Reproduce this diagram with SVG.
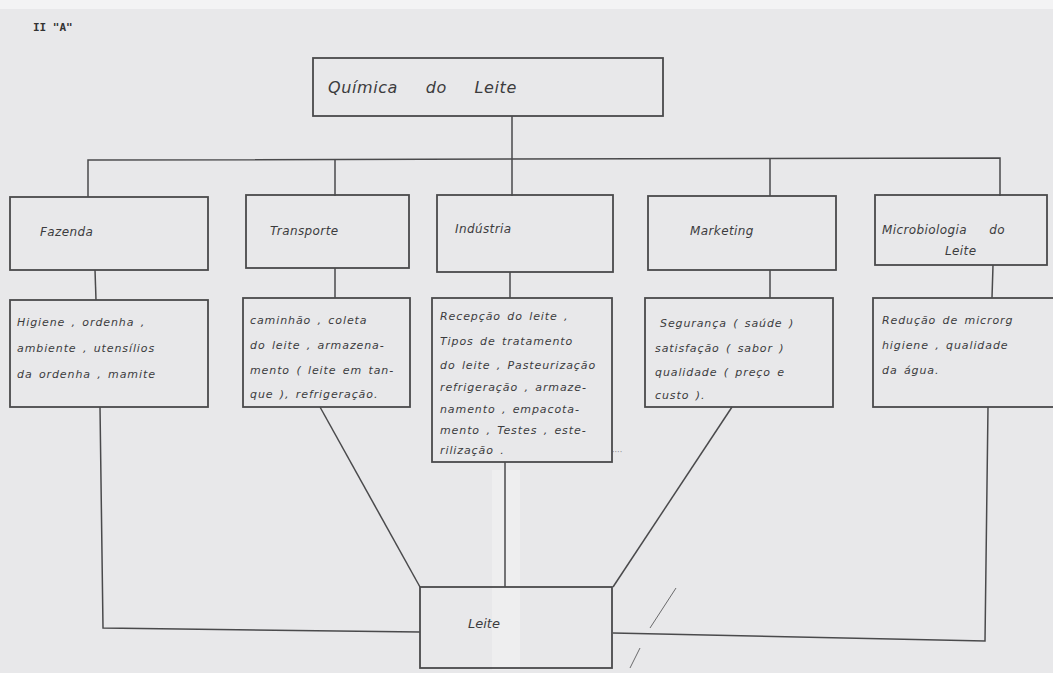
<svg xmlns="http://www.w3.org/2000/svg" width="1053" height="673" viewBox="0 0 1053 673">
  <defs>
    <style>
      .box { fill: none; stroke: #4a4a4c; stroke-width: 1.8; }
      .wire { fill: none; stroke: #4a4a4c; stroke-width: 1.5; }
      .hand { font-family: "DejaVu Sans", sans-serif; font-style: italic; fill: #3c3c3e; }
      .t2 { font-size: 12px; letter-spacing: 0.4px; }
      .t3 { font-size: 11px; letter-spacing: 0.9px; word-spacing: 2px; }
    </style>
  </defs>

  <!-- paper -->
  <rect x="0" y="0" width="1053" height="673" fill="#e8e8ea"/>
  <rect x="0" y="0" width="1053" height="9" fill="#f3f3f4"/>
  <rect x="492" y="470" width="28" height="200" fill="#eeeeef"/>

  <text x="33" y="31" font-family="DejaVu Sans Mono, monospace" font-size="11" font-weight="bold" fill="#333">II "A"</text>

  <!-- connectors -->
  <g id="connectors">
    <line class="wire" x1="512" y1="116" x2="512" y2="160"/>
    <path class="wire" d="M88 197 V160 L1000 158 V196"/>
    <line class="wire" x1="335" y1="160" x2="335" y2="196"/>
    <line class="wire" x1="512" y1="160" x2="512" y2="196"/>
    <line class="wire" x1="770" y1="159" x2="770" y2="196"/>
    <line class="wire" x1="95" y1="270" x2="96" y2="300"/>
    <line class="wire" x1="335" y1="268" x2="335" y2="298"/>
    <line class="wire" x1="510" y1="272" x2="510" y2="298"/>
    <line class="wire" x1="770" y1="270" x2="770" y2="298"/>
    <line class="wire" x1="993" y1="265" x2="992" y2="298"/>
    <path class="wire" d="M100 407 L103 628 L420 632"/>
    <line class="wire" x1="320" y1="407" x2="420" y2="587"/>
    <line class="wire" x1="505" y1="462" x2="505" y2="587"/>
    <line class="wire" x1="732" y1="407" x2="613" y2="587"/>
    <path class="wire" d="M988 407 L985 641 L613 633"/>
  </g>

  <!-- stray pen marks -->
  <line x1="676" y1="588" x2="650" y2="628" stroke="#6a6a6c" stroke-width="1"/>
  <line x1="640" y1="648" x2="630" y2="668" stroke="#6a6a6c" stroke-width="1"/>
  <text x="612" y="455" font-family="DejaVu Sans, sans-serif" font-size="8" fill="#8a8a8c">····</text>

  <g id="root">
    <rect class="box" x="313" y="58" width="350" height="58"/>
    <text class="hand" x="328" y="93" font-size="16" letter-spacing="0.6" word-spacing="22">Química do Leite</text>
  </g>

  <g id="fazenda">
    <rect class="box" x="10" y="197" width="198" height="73"/>
    <text class="hand t2" x="40" y="236">Fazenda</text>
  </g>
  <g id="transporte">
    <rect class="box" x="246" y="195" width="163" height="73"/>
    <text class="hand t2" x="270" y="235">Transporte</text>
  </g>
  <g id="industria">
    <rect class="box" x="437" y="195" width="176" height="77"/>
    <text class="hand t2" x="455" y="233">Indústria</text>
  </g>
  <g id="marketing">
    <rect class="box" x="648" y="196" width="188" height="74"/>
    <text class="hand t2" x="690" y="235">Marketing</text>
  </g>
  <g id="microbiologia">
    <rect class="box" x="875" y="195" width="172" height="70"/>
    <text class="hand t2" x="882" y="234" word-spacing="18">Microbiologia do</text>
    <text class="hand t2" x="945" y="255">Leite</text>
  </g>

  <g id="fazenda-itens">
    <rect class="box" x="10" y="300" width="198" height="107"/>
    <text class="hand t3" x="17" y="326" word-spacing="10">Higiene , ordenha ,</text>
    <text class="hand t3" x="17" y="352" word-spacing="8">ambiente , utensílios</text>
    <text class="hand t3" x="17" y="378" word-spacing="6">da ordenha , mamite</text>
  </g>
  <g id="transporte-itens">
    <rect class="box" x="243" y="298" width="167" height="109"/>
    <text class="hand t3" x="250" y="324">caminhão , coleta</text>
    <text class="hand t3" x="250" y="349">do leite , armazena-</text>
    <text class="hand t3" x="250" y="374" letter-spacing="0.4">mento ( leite em tan-</text>
    <text class="hand t3" x="250" y="398" letter-spacing="0.4">que ), refrigeração.</text>
  </g>
  <g id="industria-itens">
    <rect class="box" x="432" y="298" width="180" height="164"/>
    <text class="hand t3" x="440" y="320">Recepção do leite ,</text>
    <text class="hand t3" x="440" y="345">Tipos de tratamento</text>
    <text class="hand t3" x="440" y="369" letter-spacing="0.3" word-spacing="1">do leite , Pasteurização</text>
    <text class="hand t3" x="440" y="391" letter-spacing="0.6">refrigeração , armaze-</text>
    <text class="hand t3" x="440" y="413">namento , empacota-</text>
    <text class="hand t3" x="440" y="434" letter-spacing="0.5">mento , Testes , este-</text>
    <text class="hand t3" x="440" y="454">rilização .</text>
  </g>
  <g id="marketing-itens">
    <rect class="box" x="645" y="298" width="188" height="109"/>
    <text class="hand t3" x="660" y="327">Segurança ( saúde )</text>
    <text class="hand t3" x="655" y="352">satisfação ( sabor )</text>
    <text class="hand t3" x="655" y="376">qualidade ( preço e</text>
    <text class="hand t3" x="655" y="399">custo ).</text>
  </g>
  <g id="microbiologia-itens">
    <rect class="box" x="873" y="298" width="182" height="109"/>
    <text class="hand t3" x="882" y="324" word-spacing="8">Redução de microrg</text>
    <text class="hand t3" x="882" y="349">higiene , qualidade</text>
    <text class="hand t3" x="882" y="374">da água.</text>
  </g>

  <g id="leite">
    <rect class="box" x="420" y="587" width="192" height="81"/>
    <text class="hand" x="468" y="628" font-size="13">Leite</text>
  </g>
</svg>
